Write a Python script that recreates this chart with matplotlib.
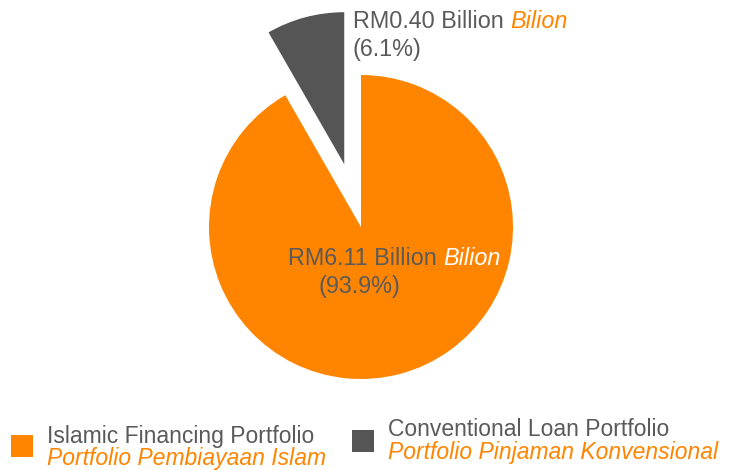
import matplotlib
matplotlib.use("Agg")
from matplotlib import pyplot as plt
from matplotlib.patches import Rectangle

plt.rcParams['font.family'] = ['Liberation Sans', 'DejaVu Sans']

# data
categories = ["Islamic Financing Portfolio", "Conventional Loan Portfolio"]
categories_bm = ["Portfolio Pembiayaan Islam", "Portfolio Pinjaman Konvensional"]
amounts = ["RM6.11 Billion", "RM0.40 Billion"]
percents = ["(93.9%)", "(6.1%)"]
# share of the circle as drawn in the picture
wedge_share = [91.7, 8.3]

ORANGE = "#FF8400"
GREY = "#555555"
TEXT = "#5a5a5a"
FS = 16.8
FS_LEG = 16.5

fig = plt.figure(figsize=(7.39, 4.70), dpi=100)
ax = fig.add_axes([0, 0, 1, 1])

ax.pie(wedge_share, colors=[ORANGE, GREY], startangle=90, counterclock=False,
       center=(361, 243), radius=152, explode=[0, 65],
       wedgeprops=dict(linewidth=0))
ax.set_xlim(0, 739)
ax.set_ylim(0, 470)
ax.set_aspect("equal")
ax.axis("off")

# labels
t = ax.text(353, 442, amounts[1] + " ", fontsize=FS, color=TEXT, va="baseline")
ax.annotate("Bilion", xy=(1, 0), xycoords=t, fontsize=FS, color=ORANGE,
            style="italic", va="bottom")
ax.text(353, 414, percents[1], fontsize=FS, color=TEXT, va="baseline")

t = ax.text(288, 205, amounts[0] + " ", fontsize=FS, color=TEXT, va="baseline")
ax.annotate("Bilion", xy=(1, 0), xycoords=t, fontsize=FS, color="white",
            style="italic", va="bottom")
ax.text(319, 177, percents[0], fontsize=FS, color=TEXT, va="baseline")

# legend
ax.add_patch(Rectangle((11, 13), 22, 22, color=ORANGE, linewidth=0))
ax.text(47, 27, categories[0], fontsize=FS_LEG, color=TEXT, va="baseline")
ax.text(47, 4.5, categories_bm[0], fontsize=FS_LEG, color=ORANGE, style="italic", va="baseline")

ax.add_patch(Rectangle((352, 18), 22, 22, color=GREY, linewidth=0))
ax.text(388, 34, categories[1], fontsize=FS_LEG, color=TEXT, va="baseline")
ax.text(388, 11.5, categories_bm[1], fontsize=FS_LEG, color=ORANGE, style="italic", va="baseline")

fig.savefig("out.png", dpi=100)
